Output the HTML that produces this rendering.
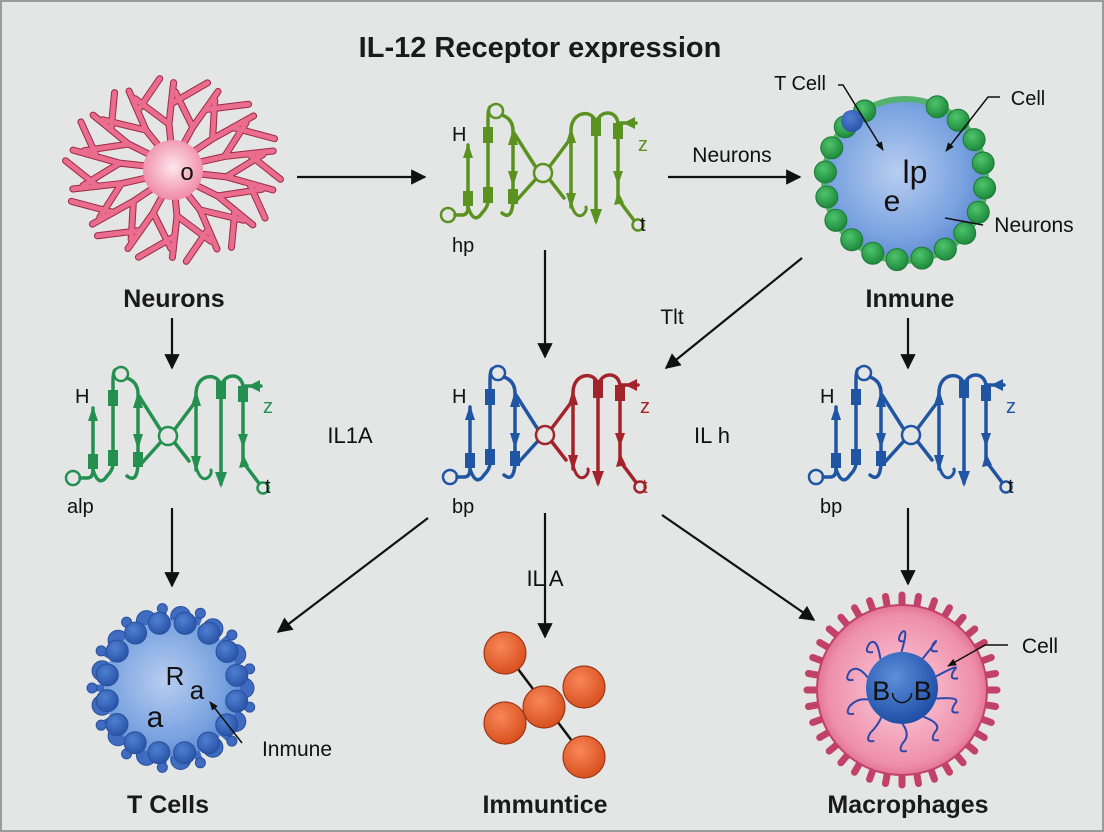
<!DOCTYPE html>
<html><head><meta charset="utf-8">
<style>
html,body{margin:0;padding:0;background:#e4e5e5;}
svg{display:block;font-family:"Liberation Sans",Arial,sans-serif;}
</style></head>
<body>
<svg id="s" width="1104" height="832" viewBox="0 0 1104 832" xmlns="http://www.w3.org/2000/svg">
<defs>
<marker id="ah" viewBox="0 0 10 10" refX="9" refY="5" markerWidth="7" markerHeight="7" orient="auto-start-reverse"><path d="M0,0 L10,5 L0,10 z" fill="#111"/></marker>
<marker id="ahs" viewBox="0 0 10 10" refX="9" refY="5" markerWidth="6" markerHeight="6" orient="auto"><path d="M0,1 L10,5 L0,9 z" fill="#111"/></marker>
<radialGradient id="gBlue" cx="45%" cy="45%" r="60%"><stop offset="0" stop-color="#b8cdf0"/><stop offset="0.7" stop-color="#7aa3e0"/><stop offset="1" stop-color="#5a86cf"/></radialGradient>
<radialGradient id="gPink" cx="50%" cy="50%" r="55%"><stop offset="0" stop-color="#fbd0dd"/><stop offset="0.8" stop-color="#ee8fab"/><stop offset="1" stop-color="#d9607f"/></radialGradient>
<radialGradient id="gSoma" cx="50%" cy="45%" r="55%"><stop offset="0" stop-color="#fde6ee"/><stop offset="1" stop-color="#f08aa8"/></radialGradient>
<radialGradient id="gNuc" cx="40%" cy="35%" r="65%"><stop offset="0" stop-color="#5d8fdc"/><stop offset="1" stop-color="#1f4fa6"/></radialGradient>
<radialGradient id="gOr" cx="40%" cy="35%" r="65%"><stop offset="0" stop-color="#f8875a"/><stop offset="1" stop-color="#d9501f"/></radialGradient>
<radialGradient id="gGr" cx="40%" cy="35%" r="65%"><stop offset="0" stop-color="#4fc46c"/><stop offset="1" stop-color="#1e8a3c"/></radialGradient>
<radialGradient id="gTb" cx="40%" cy="35%" r="65%"><stop offset="0" stop-color="#4f7fd0"/><stop offset="1" stop-color="#2a55a8"/></radialGradient>

<g id="recL" fill="none" stroke="currentColor" stroke-width="3.5" stroke-linecap="round">
  <circle cx="10" cy="112" r="7" fill="#e4e5e5" stroke-width="2.5"/>
  <path d="M17,112 H24 Q30,112 30,104 V42"/>
  <polygon points="30,40 25,55 35,55" fill="currentColor" stroke="none"/>
  <rect x="25" y="88" width="10" height="15" fill="currentColor" stroke="none"/>
  <path d="M30,104 Q36,122 44,110 Q50,104 50,98 V16 Q50,6 52,4"/>
  <rect x="45" y="24" width="10" height="16" fill="currentColor" stroke="none"/>
  <rect x="45" y="84" width="10" height="16" fill="currentColor" stroke="none"/>
  <circle cx="58" cy="8" r="7" fill="#e4e5e5" stroke-width="2.5"/>
  <path d="M64,12 Q75,16 75,28 V98 Q74,118 64,110"/>
  <polygon points="75,26 70,42 80,42" fill="currentColor" stroke="none"/>
  <polygon points="75,84 70,68 80,68" fill="currentColor" stroke="none"/>
  <rect x="70" y="86" width="10" height="15" fill="currentColor" stroke="none"/>
  <path d="M76,30 L97,63 M78,98 L97,77"/>
</g>
<g id="recR" fill="none" stroke="currentColor" stroke-width="3.5" stroke-linecap="round">
  <circle cx="105" cy="70" r="9" fill="#e4e5e5" stroke-width="2.5"/>
  <path d="M112,63 L133,35 M112,77 L126,95"/>
  <path d="M133,104 V28 C133,6 158,6 158,22 V118"/>
  <polygon points="133,24 128,40 138,40" fill="currentColor" stroke="none"/>
  <polygon points="133,106 128,90 138,90" fill="currentColor" stroke="none"/>
  <rect x="153" y="15" width="10" height="18" fill="currentColor" stroke="none"/>
  <polygon points="158,122 152,106 164,106" fill="currentColor" stroke="none"/>
  <path d="M133,100 C138,122 150,110 148,104" stroke-width="3"/>
  <path d="M158,22 C160,6 180,6 180,22 V96 L198,120"/>
  <rect x="175" y="20" width="10" height="16" fill="currentColor" stroke="none"/>
  <polygon points="180,82 175,68 185,68" fill="currentColor" stroke="none"/>
  <polygon points="180,88 176,102 186,100" fill="currentColor" stroke="none"/>
  <path d="M182,20 H198"/>
  <polygon points="185,20 197,14 197,26" fill="currentColor" stroke="none"/>
  <circle cx="200" cy="122" r="5.5" fill="#e4e5e5" stroke-width="2.5"/>
</g>
</defs>

<rect x="1" y="1" width="1102" height="830" fill="#e4e5e5" stroke="#9a9a9a" stroke-width="2"/>
<text x="540" y="57" text-anchor="middle" font-size="29" font-weight="bold" fill="#1a1a1a">IL-12 Receptor expression</text>

<!-- Neuron -->
<g id="neuron" stroke="#9b2a45" stroke-width="7" stroke-linecap="round" fill="none"></g>
<g id="neuron2" stroke="#ea6d8e" stroke-width="5" stroke-linecap="round" fill="none"></g>
<circle cx="173" cy="170" r="30" fill="url(#gSoma)"/>
<text x="187" y="180" text-anchor="middle" font-size="24" fill="#111">o</text>
<text x="174" y="307" text-anchor="middle" font-size="25" font-weight="bold" fill="#1a1a1a">Neurons</text>

<!-- Arrows -->
<g stroke="#111" stroke-width="2.2" fill="none">
<line x1="297" y1="177" x2="425" y2="177" marker-end="url(#ah)"/>
<line x1="668" y1="177" x2="800" y2="177" marker-end="url(#ah)"/>
<line x1="172" y1="318" x2="172" y2="368" marker-end="url(#ah)"/>
<line x1="545" y1="250" x2="545" y2="357" marker-end="url(#ah)"/>
<line x1="908" y1="318" x2="908" y2="368" marker-end="url(#ah)"/>
<line x1="802" y1="258" x2="666" y2="368" marker-end="url(#ah)"/>
<line x1="172" y1="508" x2="172" y2="586" marker-end="url(#ah)"/>
<line x1="428" y1="518" x2="278" y2="632" marker-end="url(#ah)"/>
<line x1="545" y1="513" x2="545" y2="637" marker-end="url(#ah)"/>
<line x1="662" y1="515" x2="814" y2="620" marker-end="url(#ah)"/>
<line x1="908" y1="508" x2="908" y2="584" marker-end="url(#ah)"/>
</g>
<text x="732" y="162" text-anchor="middle" font-size="21" fill="#111">Neurons</text>
<text x="672" y="324" text-anchor="middle" font-size="21" fill="#111">Tlt</text>
<text x="350" y="443" text-anchor="middle" font-size="22" fill="#111">IL1A</text>
<text x="712" y="443" text-anchor="middle" font-size="22" fill="#111">IL h</text>
<text x="545" y="586" text-anchor="middle" font-size="22" fill="#111">IL A</text>

<!-- Receptors -->
<g transform="translate(438,103)" style="color:#5b921f"><use href="#recL"/><use href="#recR"/>
<text x="14" y="38" font-size="20" fill="#111" stroke="none">H</text><text x="200" y="48" font-size="20" fill="#5b921f">z</text><text x="202" y="128" font-size="20" fill="#111">t</text>
<text x="14" y="149" font-size="20" fill="#111">hp</text></g>
<g transform="translate(63,366)" style="color:#249050"><use href="#recL"/><use href="#recR"/>
<text x="12" y="37" font-size="20" fill="#111">H</text><text x="200" y="47" font-size="20" fill="#249050">z</text><text x="202" y="127" font-size="20" fill="#111">t</text>
<text x="4" y="147" font-size="20" fill="#111">alp</text></g>
<g transform="translate(440,365)"><use href="#recL" style="color:#1f55a3"/><use href="#recR" style="color:#a3232a"/>
<text x="12" y="38" font-size="20" fill="#111">H</text><text x="200" y="48" font-size="20" fill="#a3232a">z</text><text x="202" y="128" font-size="20" fill="#a3232a">t</text>
<text x="12" y="148" font-size="20" fill="#111">bp</text></g>
<g transform="translate(806,365)" style="color:#1f55a3"><use href="#recL"/><use href="#recR"/>
<text x="14" y="38" font-size="20" fill="#111">H</text><text x="200" y="48" font-size="20" fill="#1f55a3">z</text><text x="202" y="128" font-size="20" fill="#111">t</text>
<text x="14" y="148" font-size="20" fill="#111">bp</text></g>

<!-- Immune cell top right -->
<circle cx="905" cy="180" r="84" fill="#52b26d"/>
<circle cx="905" cy="180" r="78" fill="url(#gBlue)"/>
<g id="greenBeads"></g>
<circle cx="852" cy="121" r="11" fill="url(#gTb)"/>
<text x="915" y="183" text-anchor="middle" font-size="32" fill="#111">lp</text>
<text x="892" y="211" text-anchor="middle" font-size="30" fill="#111">e</text>
<text x="800" y="90" text-anchor="middle" font-size="20" fill="#111">T Cell</text>
<text x="1028" y="105" text-anchor="middle" font-size="20" fill="#111">Cell</text>
<text x="1034" y="232" text-anchor="middle" font-size="21" fill="#111">Neurons</text>
<g stroke="#111" stroke-width="1.5" fill="none">
<path d="M838,85 L843,85 L883,150" marker-end="url(#ahs)"/>
<path d="M1000,97 L988,97 L946,151" marker-end="url(#ahs)"/>
<path d="M983,225 L945,218"/>
</g>
<text x="910" y="307" text-anchor="middle" font-size="25" font-weight="bold" fill="#1a1a1a">Inmune</text>

<!-- T cell -->
<g id="tcellOut"></g>
<circle cx="172" cy="688" r="68" fill="url(#gBlue)"/>
<g id="tcellIn"></g>
<text x="175" y="685" text-anchor="middle" font-size="26" fill="#111">R</text>
<text x="197" y="699" text-anchor="middle" font-size="26" fill="#111">a</text>
<text x="155" y="727" text-anchor="middle" font-size="30" fill="#111">a</text>
<path d="M242,743 L210,702" stroke="#111" stroke-width="1.5" marker-end="url(#ahs)"/>
<text x="297" y="756" text-anchor="middle" font-size="21" fill="#111">Inmune</text>
<text x="168" y="813" text-anchor="middle" font-size="25" font-weight="bold" fill="#1a1a1a">T Cells</text>

<!-- Orange balls -->
<line x1="515" y1="665" x2="575" y2="745" stroke="#111" stroke-width="2.5"/>
<g stroke="#9b3a18" stroke-width="1.2">
<circle cx="505" cy="653" r="21" fill="url(#gOr)"/>
<circle cx="584" cy="687" r="21" fill="url(#gOr)"/>
<circle cx="505" cy="723" r="21" fill="url(#gOr)"/>
<circle cx="544" cy="707" r="21" fill="url(#gOr)"/>
<circle cx="584" cy="757" r="21" fill="url(#gOr)"/>
</g>
<text x="545" y="813" text-anchor="middle" font-size="25" font-weight="bold" fill="#1a1a1a">Immuntice</text>

<!-- Macrophage -->
<g id="spikes" stroke="#c2416a" stroke-width="7" stroke-linecap="round"></g>
<circle cx="902" cy="690" r="85" fill="url(#gPink)" stroke="#c2416a" stroke-width="2"/>
<g id="squig" stroke="#2b48a8" stroke-width="2" fill="none"></g>
<circle cx="902" cy="688" r="36" fill="url(#gNuc)"/>
<text x="902" y="700" text-anchor="middle" font-size="27" fill="#111">B◡B</text>
<path d="M1008,645 L985,645 L948,666" stroke="#111" stroke-width="1.5" fill="none" marker-end="url(#ahs)"/>
<text x="1040" y="653" text-anchor="middle" font-size="21" fill="#111">Cell</text>
<text x="908" y="813" text-anchor="middle" font-size="25" font-weight="bold" fill="#1a1a1a">Macrophages</text>
</svg>
<script>
(function(){
var NS="http://www.w3.org/2000/svg";
function el(p,t,a){var e=document.createElementNS(NS,t);for(var k in a)e.setAttribute(k,a[k]);document.getElementById(p).appendChild(e);return e;}
// neuron dendrites
var cx=173,cy=170,d="";
for(var i=0;i<14;i++){
 var a=i/14*Math.PI*2+0.15;
 var rx=108,ry=92;
 var x0=cx+Math.cos(a)*25,y0=cy+Math.sin(a)*25;
 var x1=cx+Math.cos(a)*rx*0.5,y1=cy+Math.sin(a)*ry*0.5;
 var x2=cx+Math.cos(a+0.08)*rx*0.95,y2=cy+Math.sin(a+0.08)*ry*0.95;
 d+="M"+x0+","+y0+" L"+x1+","+y1+" L"+x2+","+y2;
 var b1=a-0.35,b2=a+0.4;
 d+=" M"+x1+","+y1+" L"+(cx+Math.cos(b1)*rx*0.85)+","+(cy+Math.sin(b1)*ry*0.85);
 var xm=cx+Math.cos(a+0.05)*rx*0.72,ym=cy+Math.sin(a+0.05)*ry*0.72;
 d+=" M"+xm+","+ym+" L"+(cx+Math.cos(b2)*rx*1.0)+","+(cy+Math.sin(b2)*ry*1.0);
}
el("neuron","path",{d:d});el("neuron2","path",{d:d});
// green beads
for(var i=0;i<20;i++){var a=i/20*Math.PI*2+0.1;if(i==14||i==15)continue;
 el("greenBeads","circle",{cx:905+Math.cos(a)*80,cy:180+Math.sin(a)*80,r:11,fill:"url(#gGr)",stroke:"#1c7a36","stroke-width":1});}
// tcell
for(var i=0;i<26;i++){var a=i/26*Math.PI*2;var r=(i%2)?80:72;
 el("tcellOut","line",{x1:172+Math.cos(a)*60,y1:688+Math.sin(a)*60,x2:172+Math.cos(a)*r,y2:688+Math.sin(a)*r,stroke:"#3f6cc0","stroke-width":7,"stroke-linecap":"round"});
 el("tcellOut","circle",{cx:172+Math.cos(a)*r,cy:688+Math.sin(a)*r,r:(i%2)?5:10,fill:"#3f6cc0",stroke:"#27509e","stroke-width":1});}
for(var i=0;i<16;i++){var a=i/16*Math.PI*2+0.2;
 el("tcellIn","circle",{cx:172+Math.cos(a)*66,cy:688+Math.sin(a)*66,r:11,fill:"url(#gTb)",stroke:"#27509e","stroke-width":1});}
// spikes
for(var i=0;i<36;i++){var a=i/36*Math.PI*2;
 el("spikes","line",{x1:902+Math.cos(a)*80,y1:690+Math.sin(a)*80,x2:902+Math.cos(a)*95,y2:690+Math.sin(a)*95});}
// squiggles
for(var i=0;i<10;i++){var a=i/10*Math.PI*2+0.3;var x=902+Math.cos(a)*36,y=688+Math.sin(a)*36;
 var x2=902+Math.cos(a)*55,y2=688+Math.sin(a)*55;
 el("squig","path",{d:"M"+x+","+y+" Q"+(x2+8)+","+(y2-8)+" "+x2+","+y2+" q"+(-6)+","+10+" "+4+","+8});}
})();
</script>
</body></html>
